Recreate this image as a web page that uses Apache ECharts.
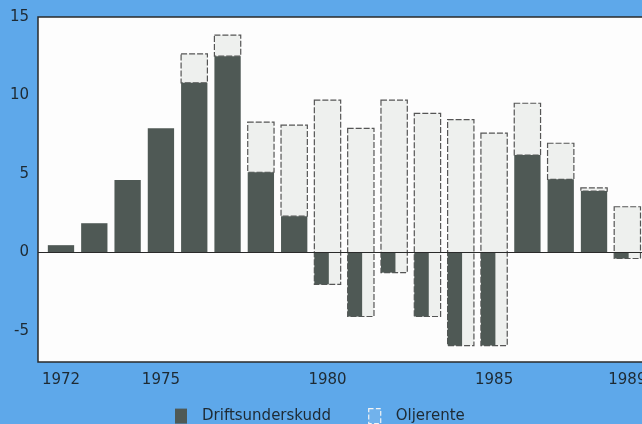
<!DOCTYPE html>
<html>
<head>
<meta charset="utf-8">
<script src="https://cdn.jsdelivr.net/npm/echarts@6/dist/echarts.min.js"></script>
<style>
  html, body { margin: 0; padding: 0; background: #5ea8ea; }
  #chart { width: 642px; height: 424px; }
</style>
</head>
<body>
<div id="chart"></div>
<script>
// years on the x axis
const years = [1972, 1973, 1974, 1975, 1976, 1977, 1978, 1979, 1980,
  1981, 1982, 1983, 1984, 1985, 1986, 1987, 1988, 1989];
// Driftsunderskudd (dark part, starts at 0)
const driftsunderskudd = [0.45, 1.85, 4.6, 7.9, 10.8, 12.5, 5.1, 2.3, -2.05,
  -4.1, -1.3, -4.1, -5.95, -5.95, 6.2, 4.65, 3.9, -0.4];
// Oljerente (light part, stacked on top of Driftsunderskudd)
const oljerente = [0, 0, 0, 0, 1.85, 1.35, 3.2, 5.8, 11.75,
  12.0, 11.0, 12.95, 14.4, 13.55, 3.3, 2.3, 0.2, 3.3];
const xTicks = [1972, 1975, 1980, 1985, 1989];
const yTicks = [-5, 0, 5, 10, 15];

const DARK = '#4f5955';
const LIGHT = '#eef0ee';
const BAR_W = 0.79; // in years
const NEG_RATIO = 0.55; // dark part below zero is narrower

function renderOil(params, api) {
  const h = api.value(2);
  if (h <= 0) return null;
  const x = api.value(0);
  const base = api.value(1);
  const p0 = api.coord([x, base]);
  const p1 = api.coord([x, base + h]);
  const w = api.size([BAR_W, 0])[0];
  return {
    type: 'rect',
    shape: { x: p0[0] - w / 2, y: p1[1], width: w, height: p0[1] - p1[1] },
    style: { fill: LIGHT, stroke: '#555', lineWidth: 1.2, lineDash: [6, 2] }
  };
}

function renderDrift(params, api) {
  const x = api.value(0);
  const v = api.value(1);
  const p0 = api.coord([x, 0]);
  const p1 = api.coord([x, v]);
  let w = api.size([BAR_W, 0])[0];
  const left = p0[0] - w / 2;
  if (v < 0) {
    w = w * NEG_RATIO;
  }
  return {
    type: 'rect',
    shape: { x: left, y: Math.min(p0[1], p1[1]), width: w, height: Math.abs(p1[1] - p0[1]) },
    style: { fill: DARK }
  };
}

const chart = echarts.init(document.getElementById('chart'));
chart.setOption({
  backgroundColor: '#5ea8ea',
  animation: false,
  textStyle: { fontFamily: 'DejaVu Sans' },
  grid: {
    left: 38,
    right: -2,
    top: 17,
    bottom: 62,
    outerBoundsMode: 'none',
    show: true,
    backgroundColor: '#fdfdfd',
    borderColor: '#2a2a2a',
    borderWidth: 1.5
  },
  legend: {
    left: 170,
    top: 403,
    icon: 'rect',
    itemWidth: 12,
    itemHeight: 15,
    itemGap: 37,
    textStyle: { fontSize: 15, color: '#1e2a33', padding: [0, 0, 0, 10] },
    data: [
      { name: 'Driftsunderskudd', itemStyle: { color: DARK } },
      {
        name: 'Oljerente',
        itemStyle: { color: 'rgba(255,255,255,0.12)', borderColor: '#f4f4f4', borderWidth: 1.2, borderType: 'dashed' }
      }
    ]
  },
  xAxis: {
    type: 'value',
    min: 1971.31,
    max: 1989.5,
    axisLine: { show: false },
    axisTick: { show: false },
    splitLine: { show: false },
    axisLabel: {
      customValues: xTicks,
      fontSize: 15,
      color: '#1e2a33',
      margin: 11,
      formatter: v => String(v)
    }
  },
  yAxis: {
    type: 'value',
    min: -7,
    max: 15,
    axisLine: { show: false },
    axisTick: { show: false },
    splitLine: { show: false },
    axisLabel: {
      customValues: yTicks,
      fontSize: 15,
      color: '#1e2a33',
      margin: 9
    }
  },
  series: [
    {
      name: 'Oljerente',
      type: 'custom',
      renderItem: renderOil,
      itemStyle: { color: LIGHT },
      data: years.map((y, i) => [y, driftsunderskudd[i], oljerente[i]]),
      markLine: {
        silent: true,
        symbol: 'none',
        label: { show: false },
        lineStyle: { color: '#2a2a2a', width: 1.2, type: 'solid' },
        data: [{ yAxis: 0 }]
      },
      z: 2
    },
    {
      name: 'Driftsunderskudd',
      type: 'custom',
      renderItem: renderDrift,
      itemStyle: { color: DARK },
      data: years.map((y, i) => [y, driftsunderskudd[i]]),
      z: 3
    }
  ]
});
</script>
</body>
</html>
